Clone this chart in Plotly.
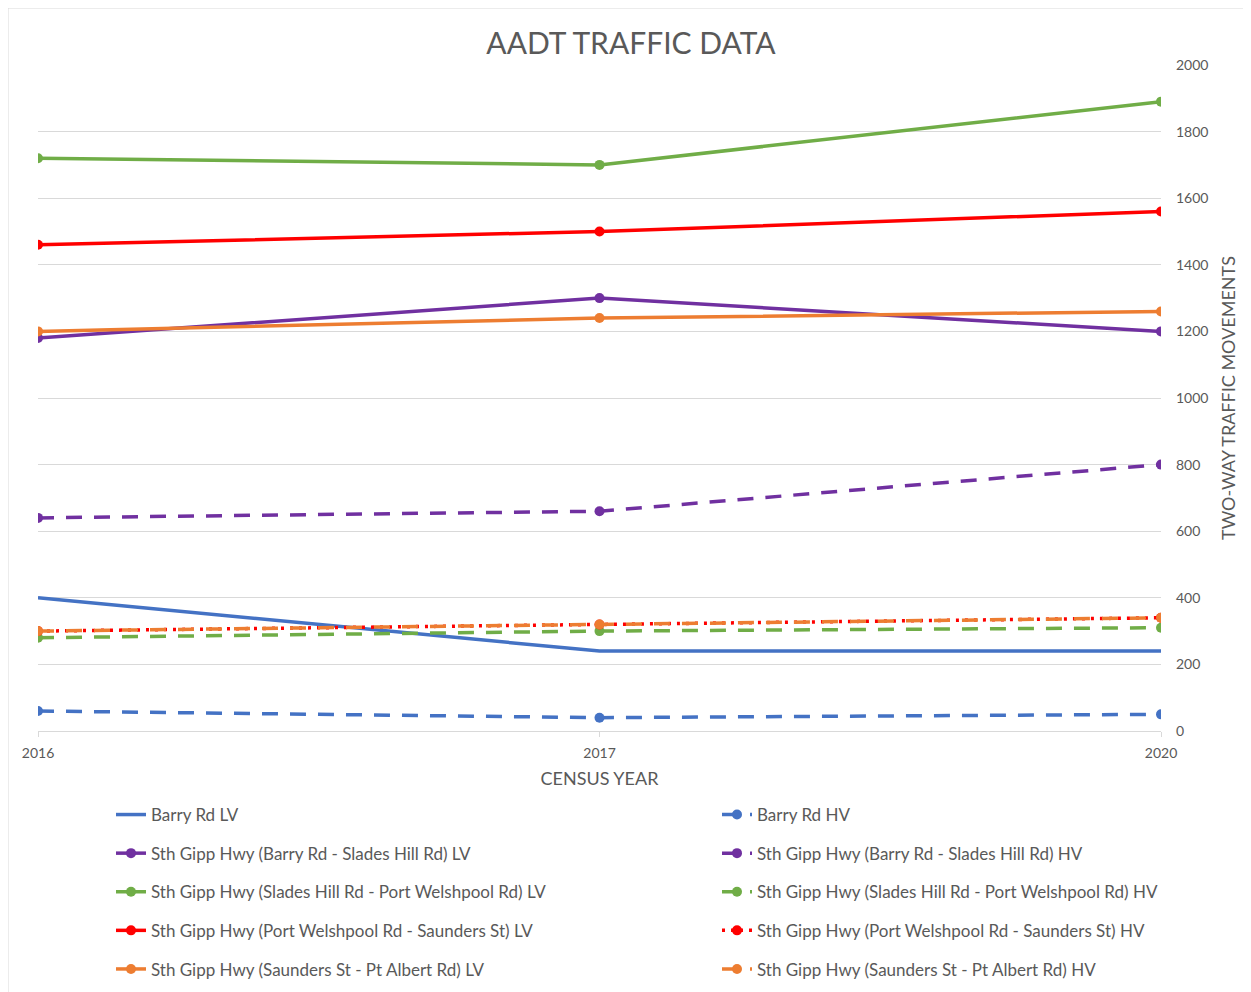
import plotly.graph_objects as go

years = ["2016", "2017", "2020"]

barry_lv = [400, 240, 240]
barry_hv = [60, 40, 50]
barry_slades_lv = [1180, 1300, 1200]
barry_slades_hv = [640, 660, 800]
slades_welsh_lv = [1720, 1700, 1890]
slades_welsh_hv = [280, 300, 310]
welsh_saunders_lv = [1460, 1500, 1560]
welsh_saunders_hv = [300, 320, 340]
saunders_albert_lv = [1200, 1240, 1260]
saunders_albert_hv = [300, 320, 340]

names = [
    "Barry Rd LV", "Barry Rd HV",
    "Sth Gipp Hwy (Barry Rd - Slades Hill Rd) LV", "Sth Gipp Hwy (Barry Rd - Slades Hill Rd) HV",
    "Sth Gipp Hwy (Slades Hill Rd - Port Welshpool Rd) LV", "Sth Gipp Hwy (Slades Hill Rd - Port Welshpool Rd) HV",
    "Sth Gipp Hwy (Port Welshpool Rd - Saunders St) LV", "Sth Gipp Hwy (Port Welshpool Rd - Saunders St) HV",
    "Sth Gipp Hwy (Saunders St - Pt Albert Rd) LV", "Sth Gipp Hwy (Saunders St - Pt Albert Rd) HV",
]
values = [barry_lv, barry_hv, barry_slades_lv, barry_slades_hv, slades_welsh_lv, slades_welsh_hv,
          welsh_saunders_lv, welsh_saunders_hv, saunders_albert_lv, saunders_albert_hv]
colors = ["#4472C4", "#4472C4", "#7030A0", "#7030A0", "#70AD47", "#70AD47",
          "#FF0000", "#FF0000", "#ED7D31", "#ED7D31"]
dashes = ["solid", "16px,12px", "solid", "16px,12px", "solid", "16px,12px",
          "solid", "3px,6px", "solid", "16px,12px"]

# page is offset by the 8px body margin
OFF = 8
W, H = 1251 - OFF, 992 - OFF
L, R, T = 38 - OFF, 1251 - 1161, 65 - OFF
B = H - (731 - OFF)
pw, ph = W - L - R, H - T - B

FONT = "Lato"
GREY = "#595959"

fig = go.Figure()
for i, (n, v, c, d) in enumerate(zip(names, values, colors, dashes)):
    mode = "lines" if i == 0 else "lines+markers"
    fig.add_trace(go.Scatter(
        x=years, y=v, name=n, mode=mode,
        line=dict(color=c, width=3.5, dash=d),
        marker=dict(color=c, size=10),
        legend="legend" if i % 2 == 0 else "legend2",
        legendgroup=n,
    ))

def cx(p):
    return (p - OFF) / W

def cy(p):
    return 1 - (p - OFF) / H

def px_x(p):
    return (p - OFF - L) / pw

legend_common = dict(
    orientation="v", font=dict(family=FONT, size=17, color=GREY),
    tracegroupgap=13.5, yanchor="top", xanchor="left", bgcolor="rgba(0,0,0,0)",
    itemwidth=30, xref="container", yref="container",
)

fig.update_layout(
    width=W, height=H,
    margin=dict(l=L, r=R, t=T, b=B, autoexpand=False),
    paper_bgcolor="white", plot_bgcolor="white",
    title=dict(text="AADT TRAFFIC DATA", x=(631 - OFF) / W, xanchor="center",
               y=1 - (43 - OFF) / H, yanchor="middle",
               font=dict(family=FONT, size=30, color=GREY)),
    xaxis=dict(type="category", range=[0, 2], showgrid=False, automargin=True,
               showline=True, linecolor="#d9d9d9", linewidth=1,
               ticks="outside", ticklen=5, tickcolor="#d9d9d9", ticklabelstandoff=4,
               tickfont=dict(family=FONT, size=14, color=GREY),
               title=dict(text="CENSUS YEAR", font=dict(family=FONT, size=18, color=GREY), standoff=12)),
    yaxis=dict(side="right", range=[0, 2000], dtick=200, showgrid=True, automargin=False,
               gridcolor="#d9d9d9", gridwidth=1, zeroline=False, showline=False,
               tickfont=dict(family=FONT, size=14, color=GREY), ticklabelstandoff=14),
    annotations=[dict(text="TWO-WAY TRAFFIC MOVEMENTS", textangle=-90, showarrow=False,
                      xref="paper", yref="paper", x=px_x(1228), y=0.5,
                      xanchor="center", yanchor="middle",
                      font=dict(family=FONT, size=18, color=GREY))],
    legend=dict(x=cx(111), y=cy(797), **legend_common),
    legend2=dict(x=cx(717), y=cy(797), **legend_common),
    shapes=[dict(type="rect", xref="paper", yref="paper",
                 x0=-L / pw, x1=(W - L + 5) / pw, y0=-(B + 5) / ph, y1=1 + T / ph,
                 line=dict(color="#d9d9d9", width=1), fillcolor="rgba(0,0,0,0)", layer="below")],
)

fig.write_html("out.html")
